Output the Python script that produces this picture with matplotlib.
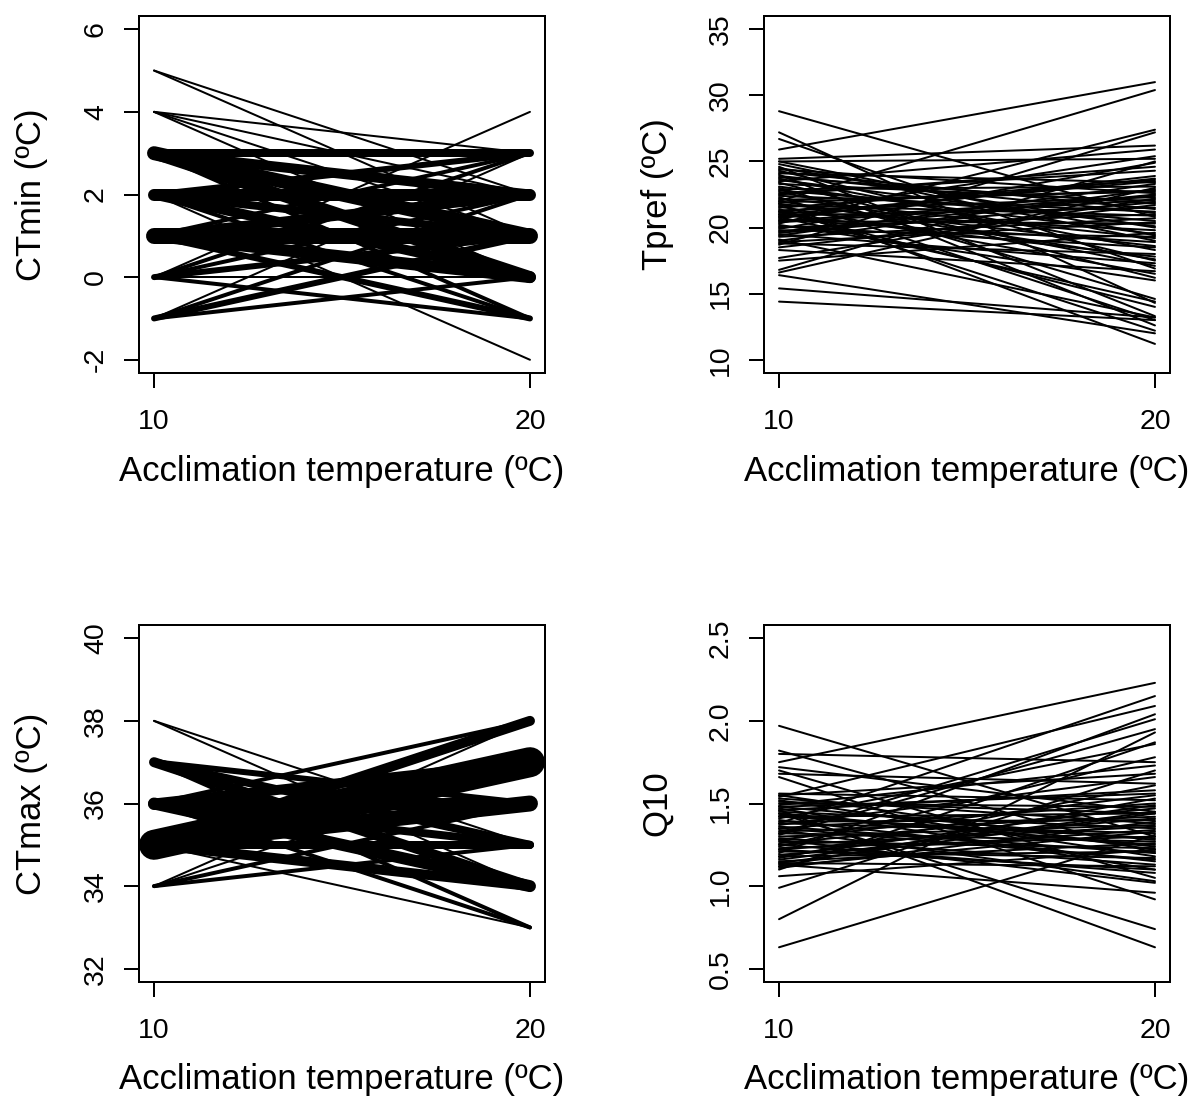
import matplotlib
matplotlib.use("Agg")
import matplotlib.pyplot as plt

plt.rcParams['font.family'] = ['Liberation Sans', 'DejaVu Sans']

# acclimation temperatures (x positions of each reaction norm)
acclim = [10, 20]

# CTmin: value at 10ºC, value at 20ºC, number of individuals (line width)
ctmin_10 = [5, 5, 4, 4, 4, 4, 3, 3, 3, 3, 3, 2, 2, 2, 2, 2, 2,
            1, 1, 1, 1, 1, 0, 0, 0, 0, 0, 0, -1, -1, -1, -1]
ctmin_20 = [2, 1, 3, 2, 1, 0, 3, 2, 1, 0, -1, 3, 2, 1, 0, -1, -2,
            3, 2, 1, 0, -1, 4, 3, 2, 1, 0, -1, 3, 2, 1, 0]
ctmin_n = [1, 1, 1, 1, 1, 1, 4, 5, 7, 6, 2, 3, 6, 4, 5, 2, 1,
           2, 5, 8, 6, 3, 1, 2, 2, 3, 1, 2, 1, 2, 3, 2]

# CTmax
ctmax_10 = [38, 38, 37, 37, 37, 37, 36, 36, 36, 36, 36, 36,
            35, 35, 35, 35, 35, 35, 34, 34, 34, 34]
ctmax_20 = [35, 34, 36, 35, 34, 33, 38, 37, 36, 35, 34, 33,
            38, 37, 36, 35, 34, 33, 38, 37, 36, 35]
ctmax_n = [1, 1, 3, 4, 5, 2, 2, 5, 6, 4, 6, 2,
           5, 15, 8, 4, 5, 1, 1, 1, 2, 2]

# Tpref
tpref_10 = [28.8, 27.2, 26.7, 25.9, 25.2, 25.0, 24.8, 24.6, 24.4, 24.3,
            24.1, 24.0, 23.8, 23.7, 23.5, 23.4, 23.3, 23.1, 23.0, 22.9,
            22.8, 22.7, 22.5, 22.4, 22.3, 22.2, 22.0, 21.9, 21.8, 21.7,
            21.6, 21.5, 21.4, 21.3, 21.2, 21.1, 21.0, 20.9, 20.8, 20.7,
            20.6, 20.5, 20.4, 20.3, 20.2, 20.0, 19.9, 19.8, 19.7, 19.5,
            19.4, 19.3, 19.1, 19.0, 18.8, 18.7, 18.5, 18.3, 17.7, 17.5,
            16.8, 16.6, 16.4, 15.4, 14.4, 22.1, 23.6, 21.0, 20.1, 24.2,
            25.0, 22.6, 18.9, 21.8, 20.5, 23.9, 22.0, 20.8, 19.6, 24.5,
            21.2]
tpref_20 = [20.8, 14.3, 16.9, 31.0, 26.2, 25.2, 19.0, 13.3, 22.6, 17.5,
            23.4, 12.6, 21.8, 18.3, 25.9, 16.2, 22.0, 19.5, 14.6, 23.1,
            20.5, 17.1, 24.6, 21.2, 13.0, 19.2, 30.4, 22.8, 18.6, 20.9,
            16.5, 23.6, 12.2, 22.3, 19.8, 25.4, 17.8, 21.5, 14.4, 23.9,
            18.9, 20.3, 22.1, 27.4, 16.0, 21.0, 24.9, 19.3, 22.5, 17.3,
            23.3, 20.7, 13.2, 22.9, 18.0, 27.2, 21.7, 16.7, 22.2, 19.6,
            25.0, 23.0, 12.0, 13.2, 13.0, 22.7, 20.1, 23.5, 18.5, 21.4,
            19.4, 24.3, 20.4, 11.2, 22.4, 21.1, 17.6, 23.7, 21.9, 20.0,
            14.0]

# Q10
q10_10 = [1.97, 1.82, 1.80, 1.75, 1.72, 1.70, 1.68, 1.66, 1.56, 1.55,
          1.54, 1.53, 1.52, 1.50, 1.49, 1.48, 1.47, 1.46, 1.45, 1.44,
          1.43, 1.42, 1.41, 1.40, 1.39, 1.38, 1.37, 1.36, 1.35, 1.34,
          1.33, 1.32, 1.31, 1.30, 1.29, 1.28, 1.27, 1.26, 1.25, 1.24,
          1.23, 1.22, 1.21, 1.20, 1.19, 1.18, 1.17, 1.16, 1.15, 1.14,
          1.13, 1.12, 1.11, 1.10, 1.06, 0.99, 0.80, 0.63, 1.46, 1.51,
          1.38, 1.28, 1.35, 1.42, 1.25, 1.55, 1.18, 1.32, 1.44, 1.22,
          1.14, 1.48, 1.12]
q10_20 = [1.30, 1.20, 1.75, 2.23, 1.45, 1.05, 1.62, 0.92, 1.52, 1.22,
          2.09, 1.38, 1.18, 1.48, 1.73, 1.28, 1.10, 1.58, 1.35, 0.74,
          1.25, 1.44, 1.86, 1.15, 1.40, 1.32, 1.66, 1.20, 1.50, 1.03,
          1.42, 1.27, 1.95, 1.37, 1.13, 1.55, 1.23, 1.47, 1.08, 1.78,
          1.30, 1.41, 1.17, 2.04, 1.34, 1.21, 1.61, 1.45, 1.26, 1.12,
          0.96, 1.53, 1.39, 1.87, 1.22, 1.70, 1.93, 1.31, 0.63, 1.44,
          2.15, 1.02, 1.16, 1.29, 1.36, 1.68, 1.49, 2.01, 1.24, 1.10,
          1.44, 1.56, 1.33]

# axis ticks and labels
x_ticks = [10, 20]
ctmin_ticks = [-2, 0, 2, 4, 6]
tpref_ticks = [10, 15, 20, 25, 30, 35]
ctmax_ticks = [32, 34, 36, 38, 40]
q10_ticks = [0.5, 1.0, 1.5, 2.0, 2.5]
x_title = 'Acclimation temperature (ºC)'

PX = 72 / 100.0          # points per pixel at dpi=100
LW = 2 * PX              # R lwd=1 at this resolution


def r_panel(fig, rect, yticks, ylabels, ylab):
  """Axes styled like an R base graphics plot (box, outward ticks, 4% pad)."""
  ax = fig.add_axes(rect)
  lo, hi = yticks[0], yticks[-1]
  pad = 0.04 * (hi - lo)
  ax.set_ylim(lo - pad, hi + pad)
  ax.set_xlim(10 - 0.4, 20 + 0.4)
  for sp in ax.spines.values():
    sp.set_linewidth(LW)
  ax.tick_params(length=15 * PX, width=LW, labelsize=20.5, direction='out')
  ax.tick_params(axis='y', pad=28 * PX)
  ax.tick_params(axis='x', pad=34 * PX)
  ax.set_xticks(x_ticks, [str(t) for t in x_ticks], va='center')
  ax.set_yticks(yticks, ylabels, rotation=90, va='center', ha='center')
  w_px = rect[2] * 1198
  h_px = rect[3] * 1108
  ax.set_xlabel(x_title, fontsize=25, va='center')
  ax.xaxis.set_label_coords(0.5, -98 / h_px)
  ax.set_ylabel(ylab, fontsize=25, va='center')
  ax.yaxis.set_label_coords(-107 / w_px, 0.5)
  return ax


def norms(ax, v10, v20, n=None):
  """One line per individual / group from 10ºC to 20ºC."""
  for i in range(len(v10)):
    w = LW if n is None else LW * n[i]
    ax.plot(acclim, [v10[i], v20[i]], color='black', lw=w,
            solid_capstyle='round', clip_on=False)


fig = plt.figure(figsize=(11.98, 11.08), dpi=100)

col1, col2 = 139 / 1198, 764 / 1198
width = 406 / 1198
row1, row2 = 1 - 373 / 1108, 1 - 982 / 1108
height = 357 / 1108

ax1 = r_panel(fig, [col1, row1, width, height], ctmin_ticks,
              [str(t) for t in ctmin_ticks], 'CTmin (ºC)')
norms(ax1, ctmin_10, ctmin_20, ctmin_n)

ax2 = r_panel(fig, [col2, row1, width, height], tpref_ticks,
              [str(t) for t in tpref_ticks], 'Tpref (ºC)')
norms(ax2, tpref_10, tpref_20)

ax3 = r_panel(fig, [col1, row2, width, height], ctmax_ticks,
              [str(t) for t in ctmax_ticks], 'CTmax (ºC)')
norms(ax3, ctmax_10, ctmax_20, ctmax_n)

ax4 = r_panel(fig, [col2, row2, width, height], q10_ticks,
              ['%.1f' % t for t in q10_ticks], 'Q10')
norms(ax4, q10_10, q10_20)

fig.savefig('out.png', dpi=100)
